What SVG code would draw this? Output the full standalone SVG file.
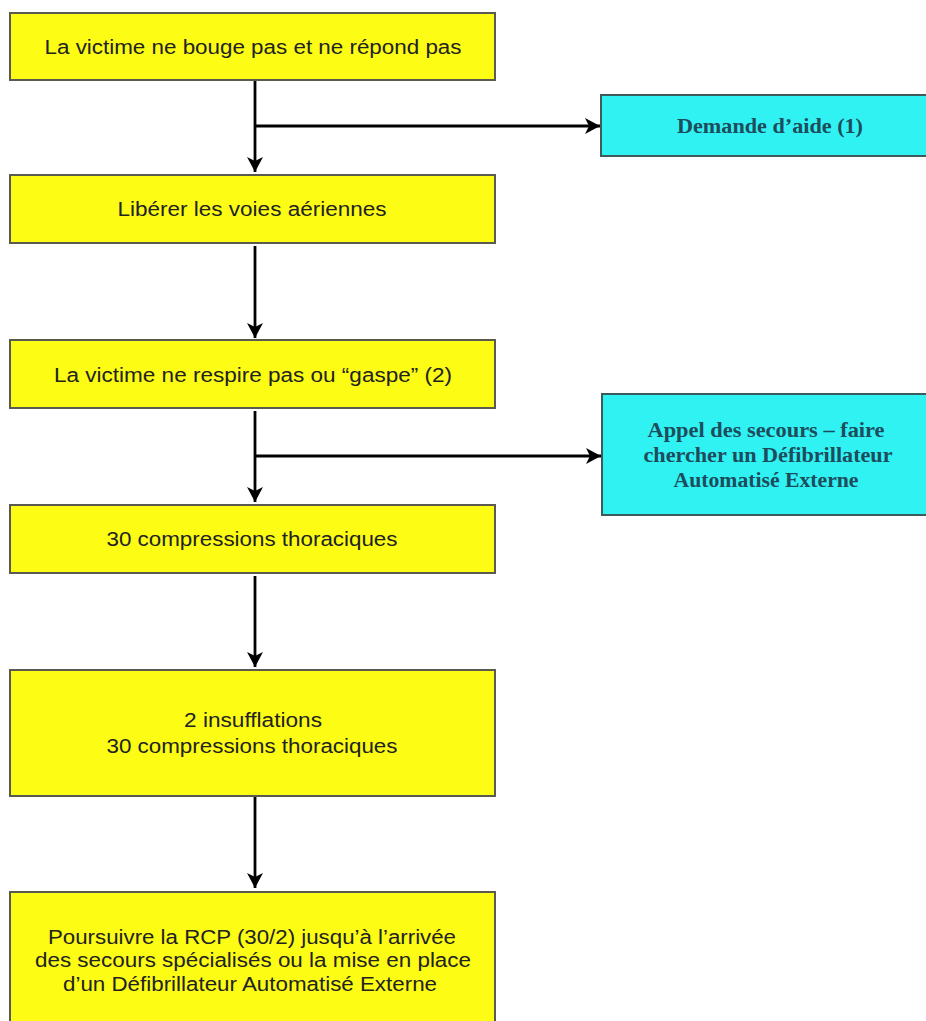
<svg xmlns="http://www.w3.org/2000/svg" width="926" height="1021" viewBox="0 0 926 1021">
<defs>
<style>
.y{fill:#fcfc14;stroke:#5a5a50;stroke-width:2}
.c{fill:#30f2f2;stroke:#3e5a5a;stroke-width:2}
.t{font-family:"Liberation Sans",Arial,sans-serif;font-size:20px;fill:#222;text-anchor:middle}
.s{font-family:"Liberation Serif","DejaVu Serif",serif;font-weight:bold;font-size:20px;fill:#1d4c5c;text-anchor:middle}
.l{stroke:#000;stroke-width:2.8;fill:none}
</style>
<marker id="ah" viewBox="0 0 15 16" refX="15" refY="8" markerWidth="15" markerHeight="16" markerUnits="userSpaceOnUse" orient="auto">
<path d="M0,0 L15,8 L0,16 L4,8 z" fill="#000"/>
</marker>
</defs>
<rect width="926" height="1021" fill="#fff"/>
<g id="connectors">
<line class="l" x1="255" y1="80" x2="255" y2="172" marker-end="url(#ah)"/>
<line class="l" x1="255" y1="126" x2="600" y2="126" marker-end="url(#ah)"/>
<line class="l" x1="255" y1="246" x2="255" y2="338" marker-end="url(#ah)"/>
<line class="l" x1="255" y1="411" x2="255" y2="502" marker-end="url(#ah)"/>
<line class="l" x1="255" y1="456" x2="601" y2="456" marker-end="url(#ah)"/>
<line class="l" x1="255" y1="576" x2="255" y2="667" marker-end="url(#ah)"/>
<line class="l" x1="255" y1="797" x2="255" y2="888" marker-end="url(#ah)"/>
</g>
<g id="n1">
<rect class="y" x="10" y="13" width="485" height="67"/>
<text class="t" x="253" y="54" textLength="417" lengthAdjust="spacingAndGlyphs">La victime ne bouge pas et ne répond pas</text>
</g>
<g id="n2">
<rect class="c" x="601" y="95" width="330" height="61"/>
<text class="s" x="770" y="133" textLength="186" lengthAdjust="spacingAndGlyphs">Demande d’aide (1)</text>
</g>
<g id="n3">
<rect class="y" x="10" y="175" width="485" height="68"/>
<text class="t" x="252" y="216" textLength="269" lengthAdjust="spacingAndGlyphs">Libérer les voies aériennes</text>
</g>
<g id="n4">
<rect class="y" x="10" y="340" width="485" height="68"/>
<text class="t" x="253" y="382" textLength="398" lengthAdjust="spacingAndGlyphs">La victime ne respire pas ou “gaspe” (2)</text>
</g>
<g id="n5">
<rect class="c" x="602" y="394" width="330" height="121"/>
<text class="s" x="766" y="437" textLength="237" lengthAdjust="spacingAndGlyphs">Appel des secours – faire</text>
<text class="s" x="768" y="462" textLength="249" lengthAdjust="spacingAndGlyphs">chercher un Défibrillateur</text>
<text class="s" x="766" y="487" textLength="185" lengthAdjust="spacingAndGlyphs">Automatisé Externe</text>
</g>
<g id="n6">
<rect class="y" x="10" y="505" width="485" height="68"/>
<text class="t" x="252" y="546" textLength="291" lengthAdjust="spacingAndGlyphs">30 compressions thoraciques</text>
</g>
<g id="n7">
<rect class="y" x="10" y="670" width="485" height="126"/>
<text class="t" x="253" y="727" textLength="138" lengthAdjust="spacingAndGlyphs">2 insufflations</text>
<text class="t" x="252" y="753" textLength="291" lengthAdjust="spacingAndGlyphs">30 compressions thoraciques</text>
</g>
<g id="n8">
<rect class="y" x="10" y="892" width="485" height="140"/>
<text class="t" x="252" y="944" textLength="408" lengthAdjust="spacingAndGlyphs">Poursuivre la RCP (30/2) jusqu’à l’arrivée</text>
<text class="t" x="253" y="967" textLength="436" lengthAdjust="spacingAndGlyphs">des secours spécialisés ou la mise en place</text>
<text class="t" x="250" y="991" textLength="374" lengthAdjust="spacingAndGlyphs">d’un Défibrillateur Automatisé Externe</text>
</g>
</svg>
